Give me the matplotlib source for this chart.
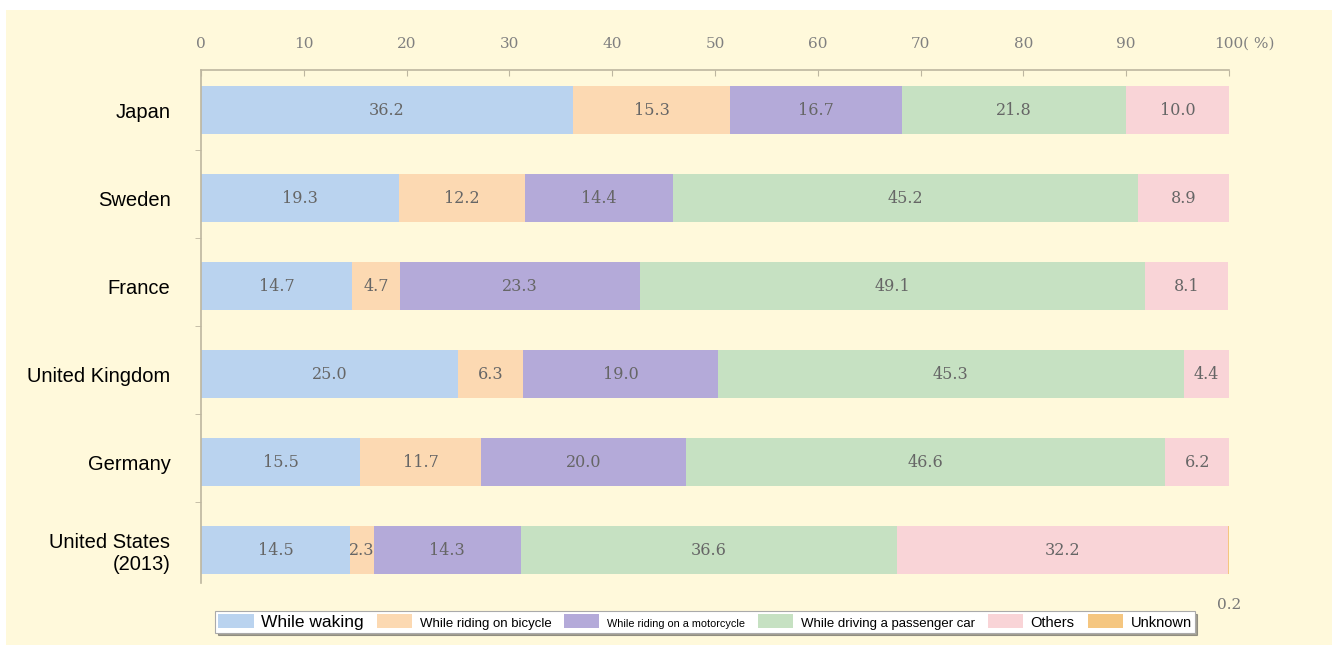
import matplotlib.pyplot as plt
import numpy as np
from matplotlib.patches import Rectangle

# data
countries = ['Japan', 'Sweden', 'France', 'United Kingdom', 'Germany', 'United States\n(2013)']
modes = ['While waking', 'While riding on bicycle', 'While riding on a motorcycle',
         'While driving a passenger car', 'Others', 'Unknown']
walking = [36.2, 19.3, 14.7, 25.0, 15.5, 14.5]
bicycle = [15.3, 12.2, 4.7, 6.3, 11.7, 2.3]
motorcycle = [16.7, 14.4, 23.3, 19.0, 20.0, 14.3]
car = [21.8, 45.2, 49.1, 45.3, 46.6, 36.6]
others = [10.0, 8.9, 8.1, 4.4, 6.2, 32.2]
unknown = [0, 0, 0, 0, 0, 0.2]
xticks = [0, 10, 20, 30, 40, 50, 60, 70, 80, 90, 100]

colors = ['#BAD3EF', '#FCD9B2', '#B4AAD9', '#C6E1C2', '#F9D4D7', '#F5C680']
bg = '#FFF9DB'
# legend text sizes (the original mixes sizes)
leg_sizes = [12.5, 9.5, 7.8, 9.5, 10.5, 10.5]

fig = plt.figure(figsize=(13.32, 6.45), dpi=100)
fig.patch.set_facecolor('white')
fig.patches.append(Rectangle((6 / 1332, 0), 1, 1 - 10 / 645, transform=fig.transFigure,
                             facecolor=bg, edgecolor='none', zorder=-10))

ax = fig.add_axes([201 / 1332, 1 - 583 / 645, 1028 / 1332, 513 / 645])
ax.set_facecolor(bg)

series = [walking, bicycle, motorcycle, car, others, unknown]
y = np.arange(len(countries))
left = np.zeros(len(countries))
serif = ['DejaVu Serif']
for vals, col, name in zip(series, colors, modes):
    vals = np.array(vals)
    ax.barh(y, vals, left=left, height=0.545, color=col, edgecolor='none', label=name)
    for i, v in enumerate(vals):
        if v <= 0:
            continue
        if v < 1:
            ax.text(left[i] + v / 2, y[i] + 0.62, f'{v:.1f}', ha='center', va='center',
                    fontsize=11, color='#777777', family=serif, clip_on=False)
        else:
            ax.text(left[i] + v / 2, y[i], f'{v:.1f}', ha='center', va='center',
                    fontsize=11.5, color='#666666', family=serif)
    left += vals

ax.set_xlim(0, 100)
ax.set_ylim(5.375, -0.455)

for s in ['right', 'bottom']:
    ax.spines[s].set_visible(False)
for s in ['top', 'left']:
    ax.spines[s].set_color('#BDB6A0')
    ax.spines[s].set_linewidth(1.2)

ax.xaxis.tick_top()
ax.set_xticks(xticks)
ax.set_xticklabels([str(t) for t in xticks], family=serif, fontsize=11, color='#808080')
ax.tick_params(axis='x', direction='in', length=4, color='#BDB6A0', pad=14)
ax.annotate('( %)', xy=(100, 1), xycoords=('data', 'axes fraction'), xytext=(10, 14),
            textcoords='offset points', ha='left', va='bottom', family=serif,
            fontsize=11, color='#808080')

ax.set_yticks(y)
ax.set_yticklabels(countries, fontsize=14.5, family=['Liberation Sans', 'DejaVu Sans'],
                   ha='right', multialignment='right')
ax.tick_params(axis='y', length=0, pad=22)
ax.set_yticks(y[:-1] + 0.45, minor=True)
ax.tick_params(axis='y', which='minor', direction='out', length=4, color='#BDB6A0')

leg = fig.legend(loc='center', bbox_to_anchor=(705 / 1332, 1 - 622 / 645), ncol=6,
                 frameon=True, fancybox=False, shadow=True, handlelength=2.3,
                 handleheight=1.0, handletextpad=0.5, columnspacing=0.85,
                 borderpad=0.2, prop={'family': 'Liberation Sans', 'size': 11})
leg.get_frame().set_edgecolor('#AAAAAA')
leg.get_frame().set_linewidth(0.8)
for t, s in zip(leg.get_texts(), leg_sizes):
    t.set_fontsize(s)

fig.savefig('out.png', dpi=100)
